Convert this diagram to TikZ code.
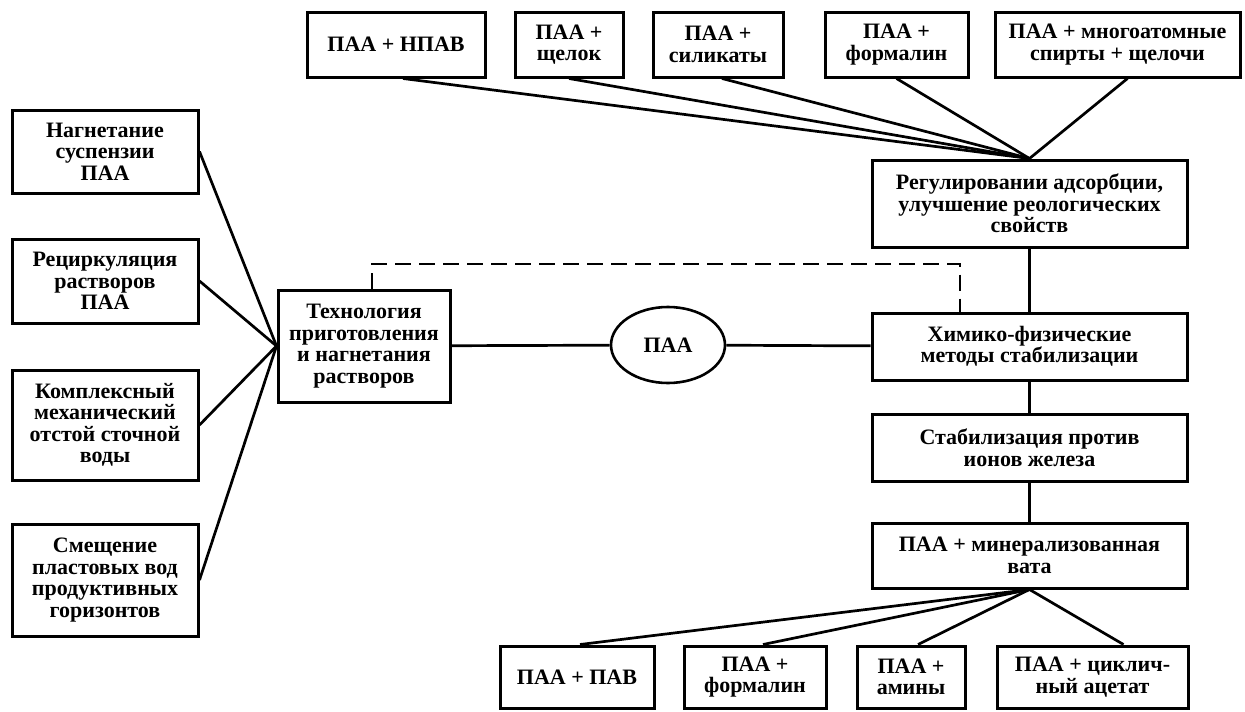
\documentclass[tikz,border=0pt]{standalone}
\usepackage{fontspec}
\setmainfont{Liberation Serif}
\usetikzlibrary{shapes.geometric}

\tikzset{
  box/.style={draw, line width=3pt, align=center, inner sep=0pt,
    font=\fontsize{22}{21.5}\selectfont\bfseries},
  link/.style={line width=2.7pt},
  backlink/.style={link, line width=2pt, dash pattern=on 16pt off 8pt}
}

\begin{document}
\begin{tikzpicture}[x=1pt,y=-1pt]
  \useasboundingbox (0,0) rectangle (1245,712);
  % top row
  \node[box, minimum width=178, minimum height=65] (npav) at (396,44.5) {ПАА + НПАВ};
  \node[box, minimum width=108, minimum height=65] (shchelok) at (569,44.5) {ПАА +\\щелок};
  \node[box, minimum width=130, minimum height=65] (silikat) at (718,44.5) {ПАА +\\силикаты};
  \node[box, minimum width=143, minimum height=65] (formtop) at (896.5,44.5) {ПАА +\\формалин};
  \node[box, minimum width=245, minimum height=65] (spirty) at (1117.5,44.5) {ПАА + многоатомные\\спирты + щелочи};
  % right column
  \node[box, minimum width=315, minimum height=87] (reg) at (1029.5,203.5) {Регулировании адсорбции,\\улучшение реологических\\свойств};
  \node[box, minimum width=315, minimum height=67] (chem) at (1029.5,346.5) {Химико-физические\\методы стабилизации};
  \node[box, minimum width=315, minimum height=67] (stab) at (1029.5,447.5) {Стабилизация против\\ионов железа};
  \node[box, minimum width=315, minimum height=65] (vata) at (1029.5,555.5) {ПАА + минерализованная\\вата};
  % bottom row
  \node[box, minimum width=154, minimum height=62] (pav) at (577,677) {ПАА + ПАВ};
  \node[box, minimum width=142, minimum height=62] (formbot) at (755,677) {ПАА +\\формалин};
  \node[box, minimum width=108, minimum height=62] (aminy) at (911,677) {ПАА +\\амины};
  \node[box, minimum width=191, minimum height=62] (acetat) at (1092.5,677) {ПАА + циклич-\\ный ацетат};
  % left column
  \node[box, minimum width=186, minimum height=83] (nagn) at (105,151.5) {Нагнетание\\суспензии\\ПАА};
  \node[box, minimum width=186, minimum height=84] (recirc) at (105,281) {Рециркуляция\\растворов\\ПАА};
  \node[box, minimum width=186, minimum height=110] (otstoj) at (105,425) {Комплексный\\механический\\отстой сточной\\воды};
  \node[box, minimum width=186, minimum height=112] (smesh) at (105,580) {Смещение\\пластовых вод\\продуктивных\\горизонтов};
  % centre
  \node[box, minimum width=172, minimum height=112] (tech) at (364,346) {Технология\\приготовления\\и нагнетания\\растворов};
  \node[box, ellipse, line width=2.6pt, minimum width=114, minimum height=76] (paa) at (668,345) {ПАА};

  \foreach \n/\dx in {npav/7,shchelok/0,silikat/4,formtop/0,spirty/10}
    \draw[link] ([xshift=\dx]\n.south) -- (reg.north);
  \foreach \n/\dx in {pav/3,formbot/8,aminy/7,acetat/31}
    \draw[link] (vata.south) -- ([xshift=\dx]\n.north);
  \foreach \n in {nagn,recirc,otstoj,smesh}
    \draw[link] (\n.east) -- (tech.west);
  \draw[link] (reg) -- (chem) (chem) -- (stab) (stab) -- (vata);
  \draw[link] (tech) -- (paa) -- (chem);
  \draw[backlink] ([xshift=8]tech.north) -- ++(0,-25) -| ([xshift=-69.5]chem.north);
\end{tikzpicture}
\end{document}
